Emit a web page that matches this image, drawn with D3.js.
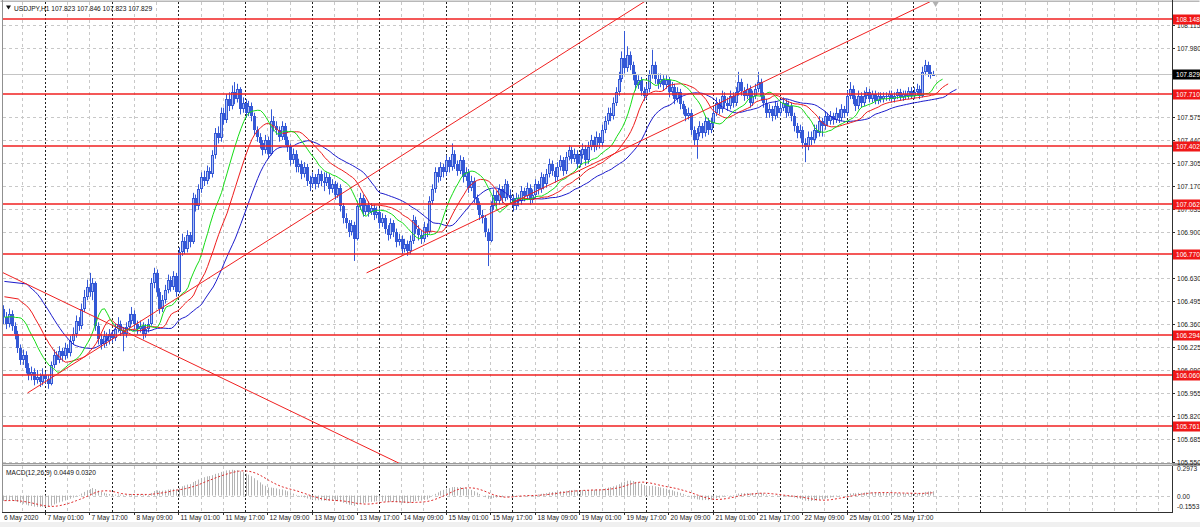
<!DOCTYPE html>
<html><head><meta charset="utf-8">
<script src="https://cdn.jsdelivr.net/npm/d3@7"></script>
<style>
body{margin:0;background:#fff;}
svg{display:block;}
text{font-family:"Liberation Sans",Arial,sans-serif;font-size:6.6px;}
</style>
</head><body>
<svg id="c" width="1200" height="527"></svg>
<script>
// ---------------- DATA ----------------
const symbol = "USDJPY,H1";
const headerOHLC = ["107.823","107.846","107.823","107.829"];
const firstOpen = 106.45;
const closes = [
106.40,106.36,106.42,106.35,106.30,106.22,106.15,106.18,106.10,106.06,
106.08,106.03,106.05,106.02,106.06,106.04,106.01,106.12,106.18,106.15,
106.20,106.17,106.22,106.19,106.26,106.30,106.38,106.35,106.45,106.52,
106.58,106.55,106.60,106.35,106.27,106.24,106.29,106.26,106.30,106.28,
106.33,106.36,106.32,106.30,106.34,106.38,106.42,106.36,106.33,106.35,
106.30,106.33,106.36,106.60,106.66,106.55,106.45,106.50,106.56,106.62,
106.58,106.64,106.55,106.78,106.85,106.80,106.88,106.84,107.10,107.05,
107.15,107.22,107.20,107.26,107.24,107.35,107.48,107.45,107.60,107.56,
107.68,107.64,107.72,107.68,107.74,107.62,107.66,107.60,107.64,107.58,
107.50,107.46,107.42,107.38,107.44,107.36,107.55,107.52,107.50,107.46,
107.52,107.44,107.40,107.32,107.36,107.28,107.30,107.24,107.28,107.20,
107.18,107.22,107.18,107.24,107.20,107.19,107.22,107.15,107.18,107.12,
107.16,107.05,106.98,106.95,106.90,106.94,106.86,107.05,107.10,107.02,
107.06,107.02,107.04,107.00,107.02,106.95,106.98,106.92,106.88,106.95,
106.90,106.84,106.86,106.80,106.83,106.79,106.85,106.97,106.92,106.88,
106.86,106.93,106.90,107.08,107.15,107.25,107.22,107.28,107.25,107.32,
107.28,107.36,107.30,107.26,107.32,107.22,107.25,107.16,107.20,107.10,
107.06,107.00,106.98,106.90,106.85,107.05,107.12,107.08,107.15,107.10,
107.18,107.12,107.10,107.05,107.10,107.08,107.14,107.11,107.16,107.09,
107.12,107.18,107.15,107.22,107.18,107.24,107.30,107.26,107.22,107.28,
107.32,107.26,107.34,107.38,107.33,107.36,107.30,107.35,107.39,107.32,
107.40,107.44,107.40,107.46,107.42,107.50,107.55,107.60,107.58,107.66,
107.72,107.80,107.92,107.86,107.94,107.88,107.82,107.76,107.79,107.73,
107.70,107.74,107.82,107.88,107.80,107.77,107.80,107.76,107.79,107.72,
107.75,107.68,107.72,107.65,107.62,107.58,107.60,107.50,107.44,107.48,
107.52,107.48,107.55,107.50,107.54,107.60,107.66,107.62,107.70,107.66,
107.64,107.70,107.66,107.72,107.78,107.73,107.70,107.74,107.66,107.70,
107.74,107.78,107.70,107.66,107.60,107.62,107.58,107.64,107.60,107.63,
107.66,107.60,107.64,107.58,107.52,107.48,107.50,107.42,107.40,107.46,
107.44,107.50,107.48,107.55,107.52,107.58,107.55,107.58,107.56,107.60,
107.57,107.62,107.60,107.70,107.74,107.68,107.64,107.70,107.66,107.70,
107.72,107.68,107.71,107.67,107.70,107.68,107.70,107.69,107.71,107.68,
107.70,107.72,107.69,107.71,107.70,107.73,107.70,107.72,107.74,107.70,
107.84,107.88,107.84,107.823,107.829];
const highs = [
106.47,106.43,106.45,106.44,106.37,106.32,106.24,106.21,106.20,106.13,
106.11,106.10,106.09,106.07,106.10,106.08,106.06,106.14,106.21,106.20,
106.23,106.22,106.25,106.24,106.29,106.34,106.41,106.40,106.48,106.56,
106.62,106.66,106.63,106.61,106.37,106.30,106.32,106.31,106.33,106.32,
106.36,106.40,106.38,106.34,106.37,106.42,106.46,106.44,106.38,106.38,
106.37,106.36,106.39,106.63,106.69,106.68,106.57,106.53,106.59,106.65,
106.64,106.67,106.66,106.81,106.89,106.87,106.91,106.90,107.13,107.12,
107.18,107.25,107.26,107.29,107.28,107.38,107.51,107.52,107.63,107.63,
107.71,107.72,107.76,107.78,107.77,107.75,107.69,107.68,107.67,107.66,
107.60,107.52,107.48,107.44,107.47,107.46,107.62,107.58,107.55,107.52,
107.55,107.54,107.46,107.42,107.39,107.38,107.33,107.32,107.31,107.30,
107.23,107.25,107.24,107.27,107.26,107.25,107.25,107.24,107.21,107.20,
107.19,107.18,107.07,107.01,106.97,106.97,106.96,107.08,107.13,107.12,
107.09,107.08,107.07,107.06,107.05,107.04,107.01,107.00,106.94,106.98,
106.97,106.92,106.89,106.88,106.86,106.85,106.88,107.00,106.99,106.94,
106.91,106.96,106.95,107.11,107.18,107.28,107.28,107.31,107.30,107.35,
107.34,107.42,107.38,107.32,107.35,107.34,107.28,107.27,107.23,107.22,
107.12,107.08,107.03,107.00,106.92,107.08,107.15,107.14,107.18,107.17,
107.21,107.20,107.15,107.12,107.13,107.12,107.17,107.16,107.19,107.18,
107.15,107.21,107.20,107.25,107.24,107.27,107.33,107.32,107.28,107.31,
107.35,107.34,107.37,107.41,107.40,107.39,107.38,107.38,107.42,107.41,
107.43,107.47,107.46,107.49,107.48,107.53,107.58,107.63,107.63,107.69,
107.75,107.84,107.96,108.08,107.99,107.96,107.90,107.84,107.82,107.81,
107.75,107.77,107.85,107.97,107.90,107.83,107.83,107.82,107.82,107.81,
107.78,107.77,107.75,107.74,107.67,107.64,107.63,107.62,107.52,107.51,
107.55,107.54,107.58,107.57,107.57,107.63,107.69,107.68,107.73,107.72,
107.69,107.73,107.72,107.75,107.84,107.80,107.75,107.77,107.76,107.73,
107.77,107.84,107.80,107.72,107.68,107.65,107.64,107.67,107.66,107.66,
107.69,107.68,107.67,107.66,107.60,107.54,107.53,107.52,107.45,107.49,
107.49,107.53,107.53,107.58,107.57,107.61,107.60,107.61,107.60,107.63,
107.62,107.65,107.64,107.73,107.78,107.76,107.70,107.73,107.72,107.73,
107.75,107.74,107.73,107.73,107.72,107.72,107.72,107.72,107.73,107.73,
107.72,107.74,107.74,107.73,107.73,107.75,107.75,107.75,107.77,107.76,
107.87,107.91,107.90,107.88,107.846];
const lows = [
106.36,106.33,106.34,106.32,106.27,106.19,106.12,106.12,106.07,106.03,
106.03,106.00,106.01,105.99,106.00,106.01,105.98,106.00,106.10,106.12,
106.13,106.14,106.15,106.16,106.17,106.24,106.28,106.32,106.33,106.43,
106.50,106.52,106.50,106.32,106.24,106.21,106.22,106.23,106.24,106.25,
106.26,106.31,106.29,106.20,106.28,106.32,106.36,106.33,106.30,106.31,
106.27,106.28,106.31,106.35,106.57,106.52,106.42,106.43,106.48,106.54,
106.55,106.56,106.52,106.54,106.76,106.77,106.78,106.81,106.83,107.02,
107.03,107.13,107.17,107.18,107.21,107.22,107.33,107.42,107.43,107.53,
107.54,107.61,107.62,107.65,107.66,107.59,107.60,107.57,107.58,107.55,
107.47,107.43,107.39,107.35,107.36,107.33,107.35,107.49,107.47,107.43,
107.44,107.41,107.37,107.29,107.30,107.25,107.25,107.21,107.22,107.17,
107.14,107.16,107.15,107.16,107.17,107.14,107.17,107.12,107.13,107.09,
107.10,107.02,106.95,106.92,106.87,106.88,106.73,106.85,107.03,106.99,
107.00,106.99,107.00,106.97,106.98,106.92,106.93,106.89,106.85,106.86,
106.87,106.81,106.82,106.77,106.78,106.76,106.77,106.83,106.89,106.85,
106.83,106.84,106.87,106.89,107.06,107.13,107.19,107.20,107.22,107.23,
107.25,107.26,107.27,107.23,107.24,107.19,107.20,107.13,107.14,107.07,
107.03,106.97,106.95,106.87,106.70,106.84,107.03,107.05,107.06,107.07,
107.08,107.09,107.07,107.02,107.03,107.05,107.06,107.08,107.09,107.06,
107.07,107.10,107.12,107.13,107.15,107.16,107.22,107.23,107.19,107.20,
107.26,107.23,107.24,107.32,107.30,107.31,107.27,107.28,107.33,107.29,
107.30,107.38,107.37,107.38,107.39,107.40,107.48,107.53,107.55,107.56,
107.64,107.70,107.78,107.83,107.84,107.85,107.79,107.73,107.74,107.70,
107.67,107.68,107.72,107.80,107.77,107.74,107.75,107.73,107.74,107.69,
107.70,107.65,107.66,107.62,107.59,107.55,107.56,107.47,107.41,107.33,
107.46,107.45,107.46,107.47,107.48,107.52,107.58,107.59,107.60,107.63,
107.61,107.62,107.63,107.64,107.70,107.70,107.67,107.68,107.63,107.64,
107.68,107.72,107.67,107.63,107.57,107.57,107.55,107.56,107.57,107.58,
107.61,107.57,107.58,107.55,107.49,107.45,107.45,107.39,107.31,107.38,
107.41,107.42,107.45,107.46,107.46,107.50,107.52,107.53,107.53,107.54,
107.54,107.55,107.57,107.58,107.68,107.65,107.61,107.62,107.63,107.64,
107.68,107.66,107.66,107.65,107.65,107.66,107.66,107.67,107.67,107.66,
107.66,107.68,107.67,107.67,107.68,107.68,107.68,107.68,107.70,107.68,
107.69,107.82,107.81,107.80,107.823];

const priceTicks = ["108.115","107.980","107.575","107.440","107.305","107.170","107.035","106.900","106.630","106.495","106.360","106.225","106.090","105.955","105.820","105.685","105.550"];
const levels = [108.148, 107.710, 107.402, 107.062, 106.770, 106.294, 106.060, 105.761];
const bidPrice = 107.829;
const timeLabels = ["6 May 2020","7 May 01:00","7 May 17:00","8 May 09:00","11 May 01:00","11 May 17:00","12 May 09:00","13 May 01:00","13 May 17:00","14 May 09:00","15 May 01:00","15 May 17:00","18 May 09:00","19 May 01:00","19 May 17:00","20 May 09:00","21 May 01:00","21 May 17:00","22 May 09:00","25 May 01:00","25 May 17:00"];
// trend lines: [bar1, price1, bar2, price2]
const trendLines = [[8.8,105.955,230.2,108.25],[130.6,106.66,332,108.244],[-0.5,106.665,142,105.545]];
// alligator: [period, shift, colour, value at left edge]
const alligator = [[13,8,"#1c1ccc",106.61],[8,5,"#ee1c1c",106.52],[5,3,"#16dc16",106.40]];
const macdLabel = "MACD(12,26,9) 0.0449 0.0320";
const macdTicks = ["0.2973","0.00","-0.1553"];
const macdRange = [-0.1553, 0.2973];
const emaSeeds = [106.43, 106.49];
const signalSeed = [-0.06,-0.06,-0.06,-0.05,-0.05,-0.05,-0.05,-0.05];

// ---------------- LAYOUT ----------------
const svg = d3.select("#c");
const L = 3, R = 1172, T = 2, B = 463, MT = 466, MB = 512;
const step = 2.784;
const x = d3.scaleLinear().domain([0, 1]).range([L, L + step]);
const y = d3.scaleLinear().domain([105.55, 108.115]).range([462, 25]);
const ym = d3.scaleLinear().domain(macdRange).range([510, 468]);
const n = closes.length;
const opens = closes.map((c, i) => i === 0 ? firstOpen : closes[i - 1]);

svg.append("rect").attr("x",0).attr("y",0).attr("width",1200).attr("height",527).attr("fill","#fff");
svg.append("rect").attr("x",0).attr("y",522).attr("width",1200).attr("height",5).attr("fill","#f0f0f0");

const defs = svg.append("defs");
defs.append("clipPath").attr("id","cm").append("rect").attr("x",L).attr("y",T).attr("width",R-L).attr("height",B-T);
defs.append("clipPath").attr("id","cd").append("rect").attr("x",L).attr("y",MT).attr("width",R-L).attr("height",MB-MT);

// grid horizontals
const gGrid = svg.append("g");
priceTicks.forEach(t => {
  const yy = Math.round(y(+t)) + 0.5;
  gGrid.append("line").attr("x1",L).attr("x2",R).attr("y1",yy).attr("y2",yy)
    .attr("stroke","#c8c8c8").attr("stroke-dasharray","3,3");
});
{
  const yy = Math.round(ym(0)) + 0.5;
  gGrid.append("line").attr("x1",L).attr("x2",R).attr("y1",yy).attr("y2",yy)
    .attr("stroke","#c8c8c8").attr("stroke-dasharray","3,3");
}
// vertical grid (every 8 bars) and day separators (every 24 bars)
const sepBars = d3.range(15, 352, 24);
d3.range(7, 420, 8).forEach(i => {
  const xx = Math.round(x(i)) + 0.5;
  if (xx > R) return;
  const isSep = sepBars.includes(i);
  [[T, B], [MT, MB]].forEach(([a, b]) => {
    gGrid.append("line").attr("x1",xx).attr("x2",xx).attr("y1",a).attr("y2",b)
      .attr("stroke", isSep ? "#202020" : "#c8c8c8")
      .attr("stroke-dasharray", isSep ? "2,2" : "3,3");
  });
});

// candles
const gC = svg.append("g").attr("clip-path","url(#cm)");
for (let i = 0; i < n; i++) {
  const cx = Math.round(x(i + 0.5));
  const o = opens[i], c = closes[i];
  const up = c >= o;
  gC.append("line").attr("x1",cx-0.5).attr("x2",cx-0.5)
    .attr("y1",y(highs[i])).attr("y2",y(lows[i])).attr("stroke","#3458d6").attr("stroke-width",1);
  const y1 = Math.round(y(Math.max(o, c))), y2 = Math.round(y(Math.min(o, c)));
  if (up) {
    gC.append("rect").attr("x",cx-1.5).attr("y",y1+0.5).attr("width",2)
      .attr("height",Math.max(1, y2 - y1 - 1))
      .attr("fill","#aec0f4").attr("stroke","#3458d6").attr("stroke-width",1);
  } else {
    gC.append("rect").attr("x",cx-2).attr("y",y1).attr("width",3)
      .attr("height",Math.max(1, y2 - y1)).attr("fill","#3458d6");
  }
}

// alligator (SMMA of median price, shifted)
const gA = svg.append("g").attr("clip-path","url(#cm)");
alligator.forEach(([p, s, col, seed]) => {
  let v = seed;
  const pts = [[0, seed]];
  for (let i = 0; i < n; i++) {
    const m = (highs[i] + lows[i]) / 2;
    v = (v * (p - 1) + m) / p;
    pts.push([i + s, v]);
  }
  gA.append("path").datum(pts)
    .attr("d", d3.line().x(d => x(d[0] + 0.5)).y(d => y(d[1])))
    .attr("fill","none").attr("stroke",col).attr("stroke-width",1);
});

// bid line
svg.append("line").attr("x1",L).attr("x2",R).attr("y1",Math.round(y(bidPrice))+0.5).attr("y2",Math.round(y(bidPrice))+0.5)
  .attr("stroke","#c4c4c4");

// objects: horizontal levels and trend lines
const gO = svg.append("g").attr("clip-path","url(#cm)");
levels.forEach(lv => {
  const yy = Math.round(y(lv));
  gO.append("line").attr("x1",L).attr("x2",R).attr("y1",yy).attr("y2",yy)
    .attr("stroke","#f02020").attr("stroke-width",1.4);
});
trendLines.forEach(([b1, p1, b2, p2]) => {
  const ext = (b) => p1 + (p2 - p1) * (b - b1) / (b2 - b1);
  gO.append("line").attr("x1",x(b1)).attr("y1",y(p1)).attr("x2",x(b2 + 40)).attr("y2",y(ext(b2 + 40)))
    .attr("stroke","#f02020").attr("stroke-width",1);
});
// chart shift marker
svg.append("path").attr("d",`M${x(335)-3},2 L${x(335)+3},2 L${x(335)},7 Z`).attr("fill","#b0b0b0");

// MACD
const gM = svg.append("g").attr("clip-path","url(#cd)");
let e12 = emaSeeds[0], e26 = emaSeeds[1];
const a12 = 2 / 13, a26 = 2 / 27;
const hist = [];
closes.forEach(c => {
  e12 = e12 + a12 * (c - e12);
  e26 = e26 + a26 * (c - e26);
  hist.push(e12 - e26);
});
const all = signalSeed.concat(hist);
const sig = hist.map((h, i) => d3.mean(all.slice(i, i + 9)));
hist.forEach((h, i) => {
  const cx = Math.round(x(i + 0.5)) - 0.5;
  gM.append("line").attr("x1",cx).attr("x2",cx).attr("y1",ym(0)).attr("y2",ym(h))
    .attr("stroke","#b4b4b4").attr("stroke-width",1);
});
gM.append("path").datum(sig).attr("d", d3.line().x((d, i) => x(i + 0.5)).y(d => ym(d)))
  .attr("fill","none").attr("stroke","#e02828").attr("stroke-dasharray","2,2");

// frames
const fr = svg.append("g").attr("fill","none");
fr.append("rect").attr("x",0.5).attr("y",0.5).attr("width",1199).attr("height",1.5).attr("fill","#b8b8b8");
fr.append("line").attr("x1",L-0.5).attr("x2",L-0.5).attr("y1",0).attr("y2",MB).attr("stroke","#909090");
fr.append("line").attr("x1",R+0.5).attr("x2",R+0.5).attr("y1",0).attr("y2",MB+0.5).attr("stroke","#303030");
fr.append("rect").attr("x",L).attr("y",B).attr("width",1200-L).attr("height",3).attr("fill","#9a9a9a");
fr.append("line").attr("x1",L).attr("x2",R).attr("y1",B+1.5).attr("y2",B+1.5).attr("stroke","#d8d8d8");
fr.append("line").attr("x1",L-1).attr("x2",R+1).attr("y1",MB+0.5).attr("y2",MB+0.5).attr("stroke","#303030");

// price axis
const ax = svg.append("g");
priceTicks.forEach(t => {
  const yy = Math.round(y(+t)) + 0.5;
  ax.append("line").attr("x1",R).attr("x2",R+3).attr("y1",yy).attr("y2",yy).attr("stroke","#303030");
  ax.append("text").attr("x",R+5).attr("y",yy+2.3).attr("fill","#202020").text(t);
});
// MACD axis
[[macdTicks[0], 471],[macdTicks[1], Math.round(ym(0))+2.8],[macdTicks[2], 509]].forEach(([t, yy]) => {
  ax.append("text").attr("x",R+5).attr("y",yy).attr("fill","#202020").text(t);
});
// level labels
levels.forEach(lv => {
  const yy = Math.round(y(lv));
  ax.append("rect").attr("x",R+1).attr("y",yy-4.5).attr("width",27).attr("height",10).attr("fill","#f01818");
  ax.append("text").attr("x",R+4).attr("y",yy+2.8).attr("fill","#fff").text(lv.toFixed(3));
});
{
  const yy = Math.round(y(bidPrice));
  ax.append("rect").attr("x",R+1).attr("y",yy-4.5).attr("width",27).attr("height",10).attr("fill","#000");
  ax.append("text").attr("x",R+4).attr("y",yy+2.8).attr("fill","#fff").text(bidPrice.toFixed(3));
}

// time axis
timeLabels.forEach((t, k) => {
  const b = k === 0 ? 0 : 15 + 16 * (k - 1);
  const xx = Math.round(x(b)) + 0.5;
  if (k > 0) ax.append("line").attr("x1",xx).attr("x2",xx).attr("y1",MB).attr("y2",MB+3).attr("stroke","#303030");
  ax.append("text").attr("x", k === 0 ? 4 : xx + 2).attr("y",520).attr("fill","#202020").text(t);
});

// titles
svg.append("path").attr("d","M6,5.5 L11,5.5 L8.5,9.5 Z").attr("fill","#111");
svg.append("text").attr("x",14).attr("y",10.5).attr("fill","#111").text(symbol + "  " + headerOHLC.join(" "));
svg.append("text").attr("x",6).attr("y",475).attr("fill","#111").text(macdLabel);
</script>
</body></html>
